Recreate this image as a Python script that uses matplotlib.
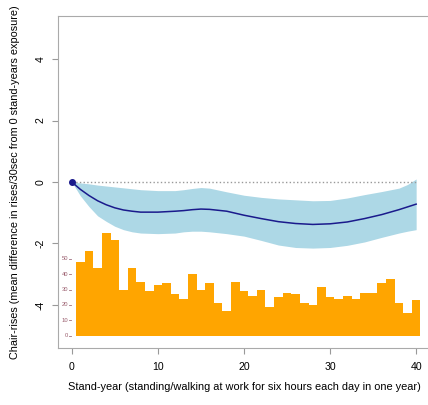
import matplotlib
matplotlib.use("Agg")
import matplotlib.pyplot as plt
import numpy as np

plt.rcParams["font.family"] = ["Liberation Sans", "DejaVu Sans"]

# stand-years grid for the fitted curve and its confidence band
years = [0, 1, 2, 3, 4, 5, 6, 7, 8, 10, 12, 13, 14, 15, 16, 18, 20, 22, 24,
         26, 28, 30, 32, 34, 36, 38, 39, 40]
fit = [0, -0.24, -0.44, -0.61, -0.74, -0.84, -0.91, -0.95, -0.98, -0.98,
       -0.95, -0.93, -0.90, -0.88, -0.89, -0.95, -1.08, -1.19, -1.29, -1.35,
       -1.38, -1.36, -1.30, -1.19, -1.06, -0.90, -0.81, -0.72]
upper = [0, -0.03, -0.06, -0.10, -0.13, -0.16, -0.19, -0.22, -0.25, -0.28,
         -0.28, -0.25, -0.21, -0.18, -0.20, -0.32, -0.43, -0.50, -0.55, -0.58,
         -0.61, -0.60, -0.52, -0.41, -0.31, -0.20, -0.08, 0.10]
lower = [0, -0.45, -0.80, -1.10, -1.28, -1.44, -1.55, -1.62, -1.66, -1.68,
         -1.66, -1.62, -1.60, -1.60, -1.62, -1.68, -1.76, -1.90, -2.05, -2.13,
         -2.15, -2.13, -2.06, -1.95, -1.80, -1.66, -1.60, -1.55]

# distribution of stand-years (counts per one-year bin)
hist_years = list(range(1, 41))
hist_counts = [48, 55, 44, 67, 62, 30, 44, 35, 29, 33, 34, 27, 24, 40, 30, 34,
               21, 16, 35, 29, 26, 30, 19, 25, 28, 27, 21, 20, 32, 25, 24, 26,
               24, 28, 28, 34, 37, 21, 15, 23]
hist_ticks = [0, 10, 20, 30, 40, 50]
hist_base, hist_scale = -5.0, 0.05

fig = plt.figure(figsize=(4.28, 4.05), dpi=100)
ax = fig.add_axes([0.1355, 0.1407, 0.869, 0.8198])

ax.fill_between(years, lower, upper, color="#ADD8E6", lw=0)
ax.plot([0, 40], [0, 0], ls=":", color="#999999", lw=1)
ax.plot(years, fit, color="#1a1a8c", lw=1.1)
ax.plot([0], [0], "o", color="#1a1a8c", ms=4)

heights = np.array(hist_counts) * hist_scale
ax.bar(hist_years, heights, width=1.0, bottom=hist_base, color="#FFA500", lw=0)
for v in hist_ticks:
    yy = hist_base + v * hist_scale
    ax.plot([-0.32, -0.05], [yy, yy], color="#a07080", lw=0.6)
    ax.text(-0.4, yy, str(v), ha="right", va="center", fontsize=4.2, color="#9b5e6e")

ax.set_xlim(-1.6, 41.6)
ax.set_ylim(-5.4, 5.4)
ax.set_xticks([0, 10, 20, 30, 40])
ax.set_yticks([-4, -2, 0, 2, 4])
ax.set_yticklabels(["-4", "-2", "0", "2", "4"], rotation=90, va="center")
ax.tick_params(direction="out", length=4, color="#999999", labelsize=7.6, pad=6)
ax.tick_params(axis="y", pad=5)
for s in ["left", "top", "bottom"]:
    ax.spines[s].set_color("#aaaaaa")
ax.spines["right"].set_visible(False)

ax.set_xlabel("Stand-year (standing/walking at work for six hours each day in one year)",
              fontsize=7.9, labelpad=7)
ax.set_ylabel("Chair-rises (mean difference in rises/30sec from 0 stand-years exposure)",
              fontsize=7.8, labelpad=11)

fig.savefig("out.png", dpi=100)
